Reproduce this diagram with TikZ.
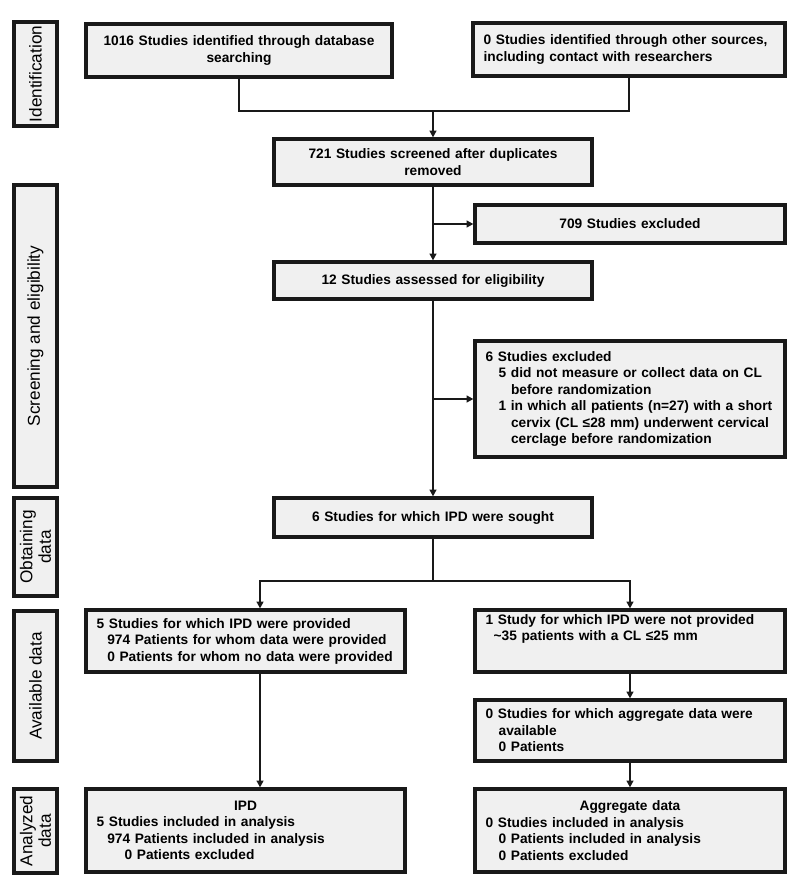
\documentclass[tikz,border=0pt]{standalone}
\usepackage{fontspec}
\setmainfont{Liberation Sans}
\usetikzlibrary{arrows.meta}
\definecolor{boxfill}{gray}{0.94}
\definecolor{boxline}{gray}{0.1}

\begin{document}
\begin{tikzpicture}[x=0.75pt,y=-0.75pt,
	>={Triangle[length=5pt,width=5pt]},
	flowbox/.style={draw=boxline,fill=boxfill,line width=2.4pt,inner xsep=8pt,inner ysep=2pt,
		font=\fontsize{10.3}{12.4}\selectfont\bfseries},
	stage/.style={draw=boxline,fill=boxfill,line width=2.4pt,rotate=90,minimum height=32.25pt,
		inner sep=1pt,align=center,font=\fontsize{12.9}{14}\selectfont},
	link/.style={draw=boxline,line width=1.6pt}]
			\useasboundingbox (0,0) rectangle (800,892);
			% stages on the left
			\node[stage,minimum width=78pt] (sIdent) at (35.5,74) {Identification};
			\node[stage,minimum width=226.5pt] (sScreen) at (35.5,336) {Screening and eligibility};
			\node[stage,minimum width=73.5pt] (sObtain) at (35.5,547) {Obtaining\\data};
			\node[stage,minimum width=112.5pt] (sAvail) at (35.5,686) {Available data};
			\node[stage,minimum width=63pt] (sAnalyz) at (35.5,831) {Analyzed\\data};
			% identification
			\node[flowbox,text width=213.5pt,minimum height=39.75pt,align=center] (ident1) at (239,50.5)
				{1016 Studies identified through database\\searching};
			\node[flowbox,text width=218pt,minimum height=39.75pt,align=left] (ident2) at (629,49.5)
				{0 Studies identified through other sources,\\including contact with researchers};
			% screening
			\node[flowbox,text width=222.5pt,minimum height=34.5pt,align=center] (screened) at (433,162)
				{721 Studies screened after duplicates\\removed};
			\node[flowbox,text width=216.5pt,minimum height=28.5pt,align=center] (excl709) at (630,224)
				{709 Studies excluded};
			\node[flowbox,text width=222.5pt,minimum height=27.75pt,align=center] (assessed) at (433,280.5)
				{12 Studies assessed for eligibility};
			\node[flowbox,text width=216.5pt,minimum height=87pt,align=left] (excl6) at (630,399)
				{6 Studies excluded\\
				\hspace*{9.75pt}5 did not measure or collect data on CL\\
				\hspace*{19pt}before randomization\\
				\hspace*{9.75pt}1 in which all patients (n=27) with a short\\
				\hspace*{19pt}cervix (CL ≤28 mm) underwent cervical\\
				\hspace*{19pt}cerclage before randomization};
			% obtaining data
			\node[flowbox,text width=222.5pt,minimum height=29.25pt,align=center] (sought) at (433,517.5)
				{6 Studies for which IPD were sought};
			% available data
			\node[flowbox,text width=223.25pt,minimum height=46.5pt,align=left] (ipdProv) at (245.5,641)
				{5 Studies for which IPD were provided\\
				\hspace*{8pt}974 Patients for whom data were provided\\
				\hspace*{8pt}0 Patients for whom no data were provided};
			\node[flowbox,text width=216.5pt,minimum height=46.5pt,align=left] (ipdNot) at (630,641)
				{1 Study for which IPD were not provided\\
				\hspace*{6pt}\textasciitilde35 patients with a CL ≤25 mm\\[4pt] \strut};
			\node[flowbox,text width=216.5pt,minimum height=45.75pt,align=left] (aggAvail) at (630,730.5)
				{0 Studies for which aggregate data were\\
				\hspace*{9.75pt}available\\
				\hspace*{9.75pt}0 Patients};
			% analyzed data
			\node[flowbox,text width=223.25pt,minimum height=62.25pt,align=left] (ipdAnal) at (245.5,830.5)
				{\makebox[\linewidth]{IPD}\\
				5 Studies included in analysis\\
				\hspace*{8pt}974 Patients included in analysis\\
				\hspace*{21pt}0 Patients excluded};
			\node[flowbox,text width=216.5pt,minimum height=62.25pt,align=left] (aggAnal) at (630,830.5)
				{\makebox[\linewidth]{Aggregate data}\\
				0 Studies included in analysis\\
				\hspace*{9.75pt}0 Patients included in analysis\\
				\hspace*{9.75pt}0 Patients excluded};
			% connectors
			\coordinate (merge) at (433,111);
			\coordinate (split) at (433,581);
			\draw[link] (ident1.south) |- (merge) -| (ident2.south);
			\draw[link,->] (merge) -- (screened.north);
			\draw[link,->] (screened) -- (assessed);
			\draw[link,->] (screened.south |- excl709.west) -- (excl709.west);
			\draw[link,->] (assessed) -- (sought);
			\draw[link,->] (assessed.south |- excl6.west) -- (excl6.west);
			\draw[link] (sought) -- (split);
			\draw[link,->] (split) -| ([xshift=10.9pt]ipdProv.north);
			\draw[link,->] (split) -| (ipdNot.north);
			\draw[link,->] ([xshift=10.9pt]ipdProv.south) -- ([xshift=10.9pt]ipdAnal.north);
			\draw[link,->] (ipdNot) -- (aggAvail);
			\draw[link,->] (aggAvail) -- (aggAnal);
\end{tikzpicture}
\end{document}
